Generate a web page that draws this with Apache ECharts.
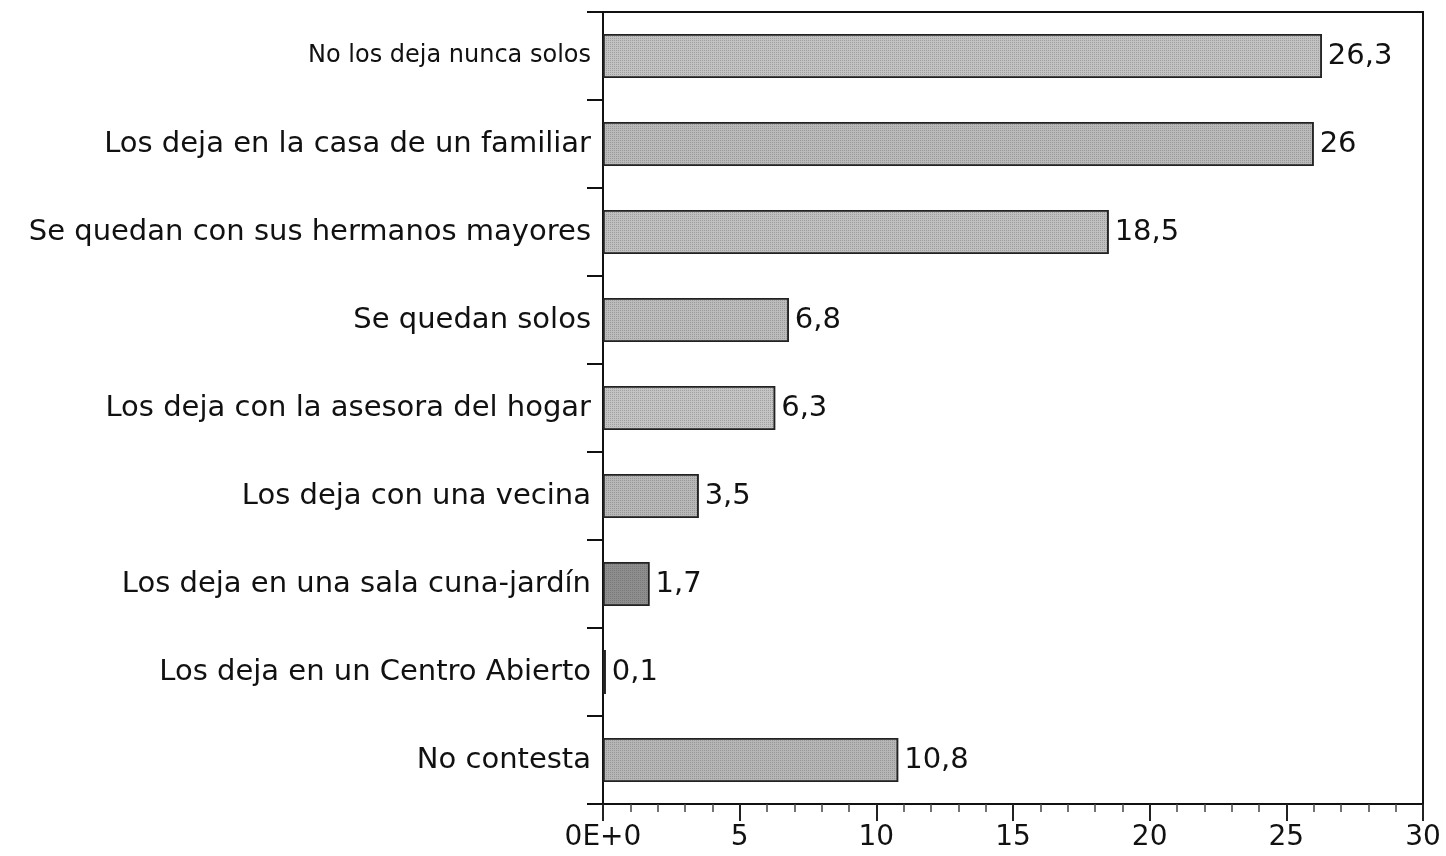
<!DOCTYPE html>
<html>
<head>
<meta charset="utf-8">
<script src="https://cdn.jsdelivr.net/npm/echarts@6/dist/echarts.min.js"></script>
<style>
  html, body { margin: 0; padding: 0; background: #fff; }
  #chart { width: 1446px; height: 856px; }
</style>
</head>
<body>
<div id="chart"></div>
<script>
// Who looks after the children: answers in percent
const categories = [
  'No los deja nunca solos',
  'Los deja en la casa de un familiar',
  'Se quedan con sus hermanos mayores',
  'Se quedan solos',
  'Los deja con la asesora del hogar',
  'Los deja con una vecina',
  'Los deja en una sala cuna-jardín',
  'Los deja en un Centro Abierto',
  'No contesta'
];
const values = [26.3, 26, 18.5, 6.8, 6.3, 3.5, 1.7, 0.1, 10.8];
const xTicks = { min: 0, max: 30, step: 5 };
const xTickLabels = ['0E+0', '5', '10', '15', '20', '25', '30'];

// bar fill shades (halftone-like grey)
const barShades = ['#c2c2c2', '#bababa', '#c0c0c0', '#bcbcbc', '#c4c4c4', '#b8b8b8', '#8e8e8e', '#bababa', '#b6b6b6'];

const chart = echarts.init(document.getElementById('chart'));
const fontFamily = '"DejaVu Sans", Verdana, sans-serif';

// fine dot screen laid over the bars
const dotScreen = {
  symbol: 'rect',
  symbolSize: 1,
  dashArrayX: [1, 1],
  dashArrayY: [1, 1],
  color: 'rgba(70, 70, 70, 0.28)'
};

chart.setOption({
  animation: false,
  backgroundColor: '#ffffff',
  grid: { left: 603, right: 23, top: 12, bottom: 52, show: true, borderColor: '#111', borderWidth: 2, backgroundColor: 'transparent' },
  xAxis: {
    type: 'value',
    min: xTicks.min,
    max: xTicks.max,
    interval: xTicks.step,
    splitLine: { show: false },
    axisLine: { show: true, lineStyle: { color: '#111', width: 2 } },
    axisTick: { show: true, length: 17, lineStyle: { color: '#222', width: 2 } },
    minorTick: { show: true, splitNumber: 5, length: 8, lineStyle: { color: '#444', width: 1.5 } },
    axisLabel: {
      margin: 20,
      color: '#111',
      fontSize: 28,
      fontFamily,
      formatter: (v) => xTickLabels[Math.round((v - xTicks.min) / xTicks.step)]
    }
  },
  yAxis: {
    type: 'category',
    data: categories,
    inverse: true,
    axisLine: { show: true, lineStyle: { color: '#111', width: 2 } },
    axisTick: { show: true, inside: false, length: 16, alignWithLabel: false, lineStyle: { color: '#111', width: 2 } },
    axisLabel: {
      margin: 12,
      color: '#111',
      fontSize: 29,
      fontFamily,
      formatter: (v, i) => (i === 0 ? '{s|' + v + '}' : v),
      rich: { s: { fontSize: 24, fontFamily, color: '#111' } }
    }
  },
  series: [{
    type: 'bar',
    barWidth: '50%',
    data: values.map((v, i) => ({
      value: v,
      itemStyle: { color: barShades[i], decal: dotScreen }
    })),
    itemStyle: { borderColor: '#222', borderWidth: 1.5 },
    label: {
      show: true,
      position: 'right',
      distance: 6,
      color: '#111',
      fontSize: 29,
      fontFamily,
      formatter: (p) => String(p.value).replace('.', ',')
    }
  }]
});
</script>
</body>
</html>
